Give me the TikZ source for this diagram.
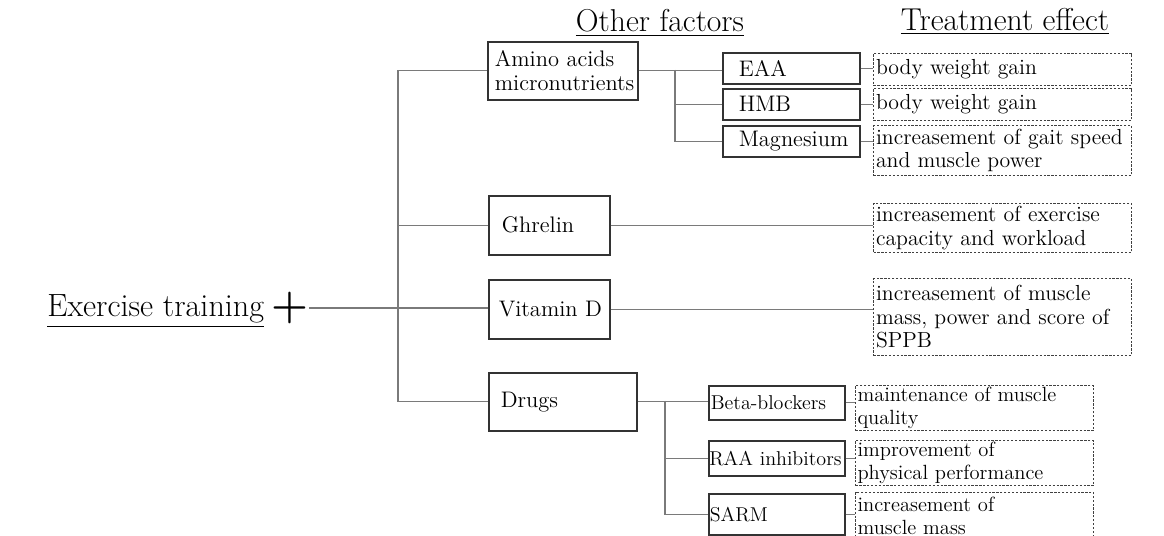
\documentclass[tikz,border=0pt]{standalone}
\usepackage{tikz}

\definecolor{linegray}{HTML}{7A7A7A}
\definecolor{boxgray}{HTML}{333333}
\newcommand\boxfont{\fontsize{12.8}{13.6}\selectfont}
\newcommand\drugfont{\fontsize{11.4}{13}\selectfont}
\newcommand\effectfont{\fontsize{12.4}{13.4}\selectfont}
\newcommand\drugeffectfont{\fontsize{11.7}{13.2}\selectfont}
\newcommand\headfont{\fontsize{18}{20}\selectfont}

\tikzset{
  link/.style={draw=linegray, line width=0.6pt},
  factor/.style={draw=boxgray, line width=0.9pt, rectangle, anchor=north west,
    align=left, inner ysep=0pt, font=\boxfont},
  effect/.style={draw=black!75, line width=0.6pt, dash pattern=on 1.3pt off 0.9pt,
    rectangle, anchor=north west, align=left, inner ysep=0pt, font=\effectfont},
}

\begin{document}
\begin{tikzpicture}[x=0.02cm, y=-0.02cm]
    \useasboundingbox (0,0) rectangle (1164,536);

    % headings
    \node[anchor=base, font=\headfont, inner sep=0] (others) at (660,32) {\underline{Other factors}};
    \node[anchor=base, font=\headfont, inner sep=0] (effects) at (1005,31) {\underline{Treatment effect}};
    \node[anchor=base west, font=\fontsize{18.3}{20}\selectfont, inner sep=0] (exercise) at (47,317) {\underline{Exercise training}};
    \node[inner sep=0] (plus) at (290,308) {\fontsize{24}{24}\selectfont\bfseries +};

    % other factors
    \node[factor, text width=2.72cm, inner xsep=0.14cm, minimum height=1.16cm] (amino) at (487,41) {\mbox{Amino acids}\\\mbox{micronutrients}};
    \node[factor, text width=1.90cm, inner xsep=0.26cm, minimum height=1.18cm] (ghrelin) at (488,195) {Ghrelin};
    \node[factor, text width=2.02cm, inner xsep=0.20cm, minimum height=1.18cm] (vitd) at (488,279) {\mbox{Vitamin D}};
    \node[factor, text width=2.48cm, inner xsep=0.24cm, minimum height=1.16cm] (drugs) at (488,372) {Drugs};

    \node[factor, text width=2.10cm, inner xsep=0.32cm, minimum height=0.62cm] (eaa) at (722,52) {EAA};
    \node[factor, text width=2.10cm, inner xsep=0.32cm, minimum height=0.62cm] (hmb) at (722,88) {HMB};
    \node[factor, text width=2.10cm, inner xsep=0.32cm, minimum height=0.62cm] (mg) at (722,125) {\mbox{Magnesium}};

    \node[factor, font=\drugfont, text width=2.64cm, inner xsep=0.04cm, minimum height=0.68cm] (beta) at (708,385) {Beta-blockers};
    \node[factor, font=\drugfont, text width=2.70cm, inner xsep=0.01cm, minimum height=0.70cm] (raa) at (708,440) {\mbox{RAA inhibitors}};
    \node[factor, font=\drugfont, text width=2.68cm, inner xsep=0.02cm, minimum height=0.82cm] (sarm) at (708,493) {SARM};

    % treatment effects
    \node[effect, text width=5.06cm, inner xsep=0.05cm, minimum height=0.64cm] (eaa-eff) at (873,53) {body weight gain};
    \node[effect, text width=5.06cm, inner xsep=0.05cm, minimum height=0.64cm] (hmb-eff) at (873,88) {body weight gain};
    \node[effect, text width=5.06cm, inner xsep=0.05cm, minimum height=1.00cm] (mg-eff) at (873,125) {\mbox{increasement of gait speed}\\and muscle power};
    \node[effect, text width=5.06cm, inner xsep=0.05cm, minimum height=0.98cm] (ghrelin-eff) at (873,203) {increasement of exercise\\capacity and workload};
    \node[effect, text width=5.06cm, inner xsep=0.05cm, minimum height=1.54cm] (vitd-eff) at (873,278) {increasement of muscle\\mass, power and score of\\SPPB};
    \node[effect, font=\drugeffectfont, text width=4.68cm, inner xsep=0.04cm, minimum height=0.90cm] (beta-eff) at (855,385) {maintenance of muscle\\quality};
    \node[effect, font=\drugeffectfont, text width=4.68cm, inner xsep=0.04cm, minimum height=0.90cm] (raa-eff) at (855,440) {improvement of\\physical performance};
    \node[effect, font=\drugeffectfont, text width=4.68cm, inner xsep=0.04cm, minimum height=0.92cm] (sarm-eff) at (855,492) {increasement of\\muscle mass};

    % branching points
    \coordinate (trunk) at (398,308);
    \coordinate (asplit) at (675,70);
    \coordinate (dsplit) at (665,401);

    % connectors
    \draw[link] (plus) -- (plus -| vitd.west);
    \draw[link] (amino.west) -- (amino.west -| trunk) -- (drugs.west -| trunk) -- (drugs.west);
    \draw[link] (ghrelin.west) -- (ghrelin.west -| trunk);

    \draw[link] (amino.east) -- (amino.east -| eaa.west);
    \draw[link] (asplit) |- (hmb.west);
    \draw[link] (asplit) |- (mg.west);

    \draw[link] (drugs.east) -- (drugs.east -| beta.west);
    \draw[link] (dsplit) |- (raa.west);
    \draw[link] (dsplit) |- (sarm.west);

    \draw[link] (eaa.east) -- (eaa.east -| eaa-eff.west);
    \draw[link] (hmb.east) -- (hmb.east -| hmb-eff.west);
    \draw[link] (mg.east) -- (mg.east -| mg-eff.west);
    \draw[link] (ghrelin.east) -- (ghrelin.east -| ghrelin-eff.west);
    \draw[link] (vitd.east) -- (vitd.east -| vitd-eff.west);
    \draw[link] (beta.east) -- (beta.east -| beta-eff.west);
    \draw[link] (raa.east) -- (raa.east -| raa-eff.west);
    \draw[link] (sarm.east) -- (sarm.east -| sarm-eff.west);
  \end{tikzpicture}
\end{document}
